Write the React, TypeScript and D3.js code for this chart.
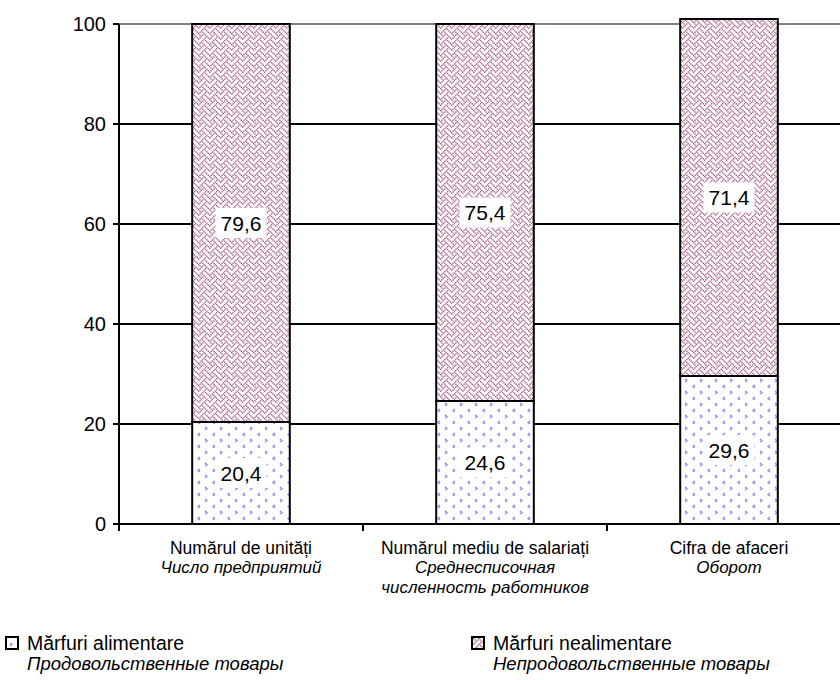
import React from "react";
import * as d3 from "d3";

const categoriesRo = ["Numărul de unități", "Numărul mediu de salariați", "Cifra de afaceri"];
const categoriesRu = [["Число предприятий"], ["Среднесписочная", "численность работников"], ["Оборот"]];
const foodValues = [20.4, 24.6, 29.6];
const nonFoodValues = [79.6, 75.4, 71.4];
const yTicks = [0, 20, 40, 60, 80, 100];
const seriesRo = ["Mărfuri alimentare", "Mărfuri nealimentare"];
const seriesRu = ["Продовольственные товары", "Непродовольственные товары"];

const W = 840;
const H = 680;
const left = 119;
const bottom = 524;
const top = 24;
const FONT = "'Liberation Sans', Arial, sans-serif";

// GDI-like weave bitmap (8x8)
const weaveRows = [0x88, 0x54, 0x22, 0x45, 0x88, 0x14, 0x22, 0x51];

function fmt(v: number) {
  return v.toFixed(1).replace(".", ",");
}

export default function App() {
  const x = d3
    .scaleBand<string>()
    .domain(categoriesRo)
    .range([left, left + 732])
    .paddingInner(0.6)
    .paddingOuter(0.3);
  const y = d3.scaleLinear().domain([0, 100]).range([bottom, top]);
  const step = x.step();
  const bw = x.bandwidth();

  const weaveScale = 11 / 8;
  const weaveCells: { cx: number; cy: number }[] = [];
  weaveRows.forEach((row, r) => {
    for (let c = 0; c < 8; c++) {
      if (row & (0x80 >> c)) weaveCells.push({ cx: c, cy: r });
    }
  });

  const stacked = categoriesRo.map((cat, i) => ({
    cat,
    segs: [
      { key: "food", y0: 0, y1: foodValues[i], v: foodValues[i], fill: "url(#divot)" },
      { key: "nonfood", y0: foodValues[i], y1: foodValues[i] + nonFoodValues[i], v: nonFoodValues[i], fill: "url(#weave)" },
    ],
  }));

  const labelFs = 21;
  const boundaries = d3.range(categoriesRo.length + 1).map((i) => left + i * step);

  return (
    <svg
      width={W}
      height={H}
      style={{ position: "absolute", left: 0, top: 0, background: "#fff" }}
      fontFamily={FONT}
    >
      <defs>
        <pattern id="weave" patternUnits="userSpaceOnUse" width={8 * weaveScale} height={8 * weaveScale}>
          <rect width={8 * weaveScale} height={8 * weaveScale} fill="#fff" />
          {weaveCells.map((p, i) => (
            <rect
              key={i}
              x={p.cx * weaveScale}
              y={p.cy * weaveScale}
              width={weaveScale}
              height={weaveScale}
              fill="#a04a7c"
              fillOpacity={0.9}
            />
          ))}
        </pattern>
        <pattern id="divot" patternUnits="userSpaceOnUse" width={15} height={12}>
          <rect width={15} height={12} fill="#fff" />
          <polyline points="5,1 3,2.5 5,4" fill="none" stroke="#8080ff" strokeWidth={1.2} />
          <polyline points="10,7 12,8.5 10,10" fill="none" stroke="#8080ff" strokeWidth={1.2} />
        </pattern>
      </defs>

      {/* gridlines */}
      {yTicks.map((t) => (
        <line
          key={t}
          x1={left}
          x2={W}
          y1={y(t)}
          y2={y(t)}
          stroke={t === 100 ? "#808080" : "#000"}
          strokeWidth={2}
        />
      ))}

      {/* bars */}
      {stacked.map((d) => (
        <g key={d.cat}>
          {d.segs.map((s) => (
            <rect
              key={s.key}
              x={x(d.cat)!}
              y={y(s.y1)}
              width={bw}
              height={y(s.y0) - y(s.y1)}
              fill={s.fill}
              stroke="#000"
              strokeWidth={2}
            />
          ))}
        </g>
      ))}

      {/* data labels */}
      {stacked.map((d) =>
        d.segs.map((s) => {
          const cx = x(d.cat)! + bw / 2;
          const cy = y((s.y0 + s.y1) / 2);
          const txt = fmt(s.v);
          const tw = 1.95 * labelFs;
          return (
            <g key={d.cat + s.key}>
              <rect x={cx - tw / 2 - 5} y={cy - 15} width={tw + 10} height={30} fill="#fff" />
              <text x={cx} y={cy} textAnchor="middle" dominantBaseline="central" fontSize={labelFs} fill="#000">
                {txt}
              </text>
            </g>
          );
        })
      )}

      {/* axes */}
      <line x1={left} x2={left} y1={top} y2={bottom + 1} stroke="#000" strokeWidth={2} />
      <line x1={left - 6} x2={W} y1={bottom} y2={bottom} stroke="#000" strokeWidth={2} />
      {yTicks.map((t) => (
        <g key={"yt" + t}>
          <line x1={left - 6} x2={left} y1={y(t)} y2={y(t)} stroke="#000" strokeWidth={2} />
          <text x={left - 13} y={y(t)} textAnchor="end" dominantBaseline="central" fontSize={20} fill="#000">
            {t}
          </text>
        </g>
      ))}
      {boundaries.map((bx, i) => (
        <line key={"xt" + i} x1={bx} x2={bx} y1={bottom} y2={bottom + 7} stroke="#000" strokeWidth={2} />
      ))}

      {/* category labels */}
      {categoriesRo.map((c, i) => {
        const cx = x(c)! + bw / 2;
        return (
          <g key={"cl" + c}>
            <text x={cx} y={554} textAnchor="middle" fontSize={17.5} fill="#000">
              {c}
            </text>
            {categoriesRu[i].map((line, j) => (
              <text key={j} x={cx} y={573 + j * 20} textAnchor="middle" fontSize={17} fontStyle="italic" fill="#000">
                {line}
              </text>
            ))}
          </g>
        );
      })}

      {/* legend */}
      {seriesRo.map((s, i) => {
        const lx = i === 0 ? 6 : 472;
        return (
          <g key={"lg" + s}>
            <rect x={lx} y={637} width={12} height={12} fill={i === 0 ? "url(#divot)" : "url(#weave)"} stroke="#000" strokeWidth={2} />
            <text x={lx + 21} y={650} fontSize={19.5} fill="#000">
              {s}
            </text>
            <text x={lx + 21} y={670} fontSize={18.5} fontStyle="italic" fill="#000">
              {seriesRu[i]}
            </text>
          </g>
        );
      })}
    </svg>
  );
}
